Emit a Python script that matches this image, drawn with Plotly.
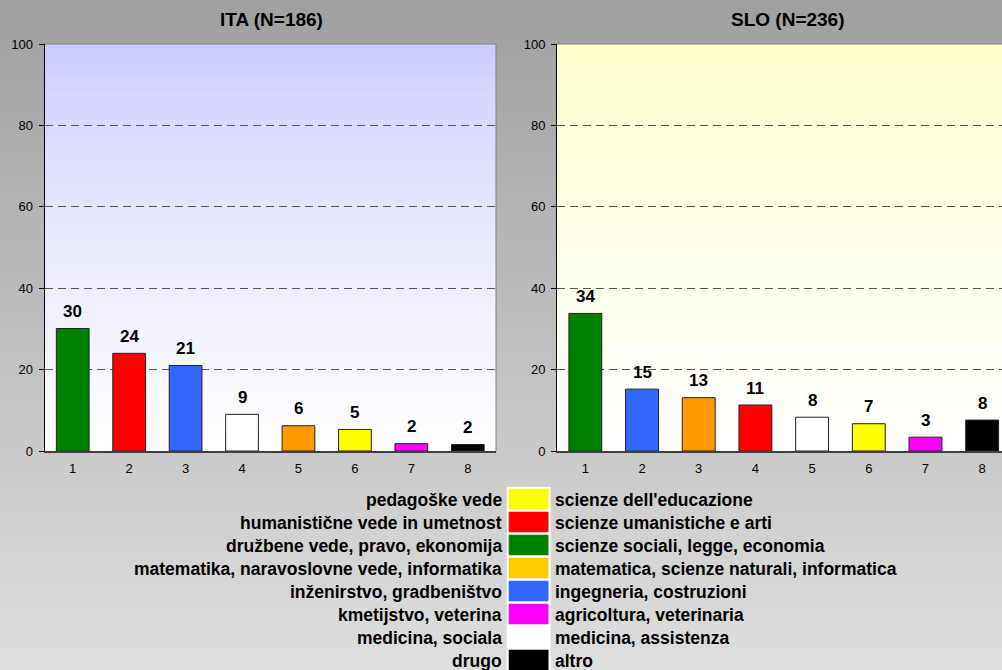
import plotly.graph_objects as go

W, H = 1002, 670
FONT = "Liberation Sans, Arial, sans-serif"

# ---------------- data ----------------
categories = [1, 2, 3, 4, 5, 6, 7, 8]
tick_labels = ["1", "2", "3", "4", "5", "6", "7", "8"]

ita_title = "ITA (N=186)"
ita_values = [30.1, 24.0, 21.0, 9.0, 6.2, 5.3, 1.8, 1.6]
ita_colors = ["#008000", "#FF0000", "#3366FF", "#FFFFFF", "#FF9900", "#FFFF00", "#FF00FF", "#000000"]

slo_title = "SLO (N=236)"
slo_values = [33.8, 15.2, 13.1, 11.3, 8.3, 6.7, 3.4, 7.6]
slo_colors = ["#008000", "#3366FF", "#FF9900", "#FF0000", "#FFFFFF", "#FFFF00", "#FF00FF", "#000000"]

legend_sl = [
    "pedagoške vede",
    "humanistične vede in umetnost",
    "družbene vede, pravo, ekonomija",
    "matematika, naravoslovne vede, informatika",
    "inženirstvo, gradbeništvo",
    "kmetijstvo, veterina",
    "medicina, sociala",
    "drugo",
]
legend_it = [
    "scienze dell'educazione",
    "scienze umanistiche e arti",
    "scienze sociali, legge, economia",
    "matematica, scienze naturali, informatica",
    "ingegneria, costruzioni",
    "agricoltura, veterinaria",
    "medicina, assistenza",
    "altro",
]
legend_colors = ["#FFFF00", "#FF0000", "#008000", "#FFCC00", "#3366FF", "#FF00FF", "#FFFFFF", "#000000"]

y_ticks = [0, 20, 40, 60, 80, 100]

# ---------------- layout helpers ----------------
def px_x(x):
    return x / W

def px_y(y):
    return 1 - y / H

plot_top, plot_bot = 44, 451
ita_l, ita_r = 44.5, 496
slo_l, slo_r = 557, 1002

shapes = []

# figure background gradient (grey, darker at top)
n = 67
for i in range(n):
    t = i / (n - 1)
    g = int(round(160 + (222 - 160) * t))
    y0 = i * H / n
    y1 = (i + 1) * H / n + 0.6
    shapes.append(dict(type="rect", xref="paper", yref="paper",
                       x0=0, x1=1, y0=max(px_y(y1), 0), y1=px_y(y0),
                       fillcolor=f"rgb({g},{g},{g})", line=dict(width=0), layer="below"))

# plot-area gradients
def plot_gradient(xl, xr, top_rgb):
    m = 50
    out = []
    for i in range(m):
        t = (i / (m - 1)) ** 0.8
        c = [int(round(top_rgb[k] + (255 - top_rgb[k]) * t)) for k in range(3)]
        y0 = plot_top + i * (plot_bot - plot_top) / m
        y1 = plot_top + (i + 1) * (plot_bot - plot_top) / m + 0.6
        out.append(dict(type="rect", xref="paper", yref="paper",
                        x0=px_x(xl), x1=px_x(xr), y0=px_y(min(y1, plot_bot)), y1=px_y(y0),
                        fillcolor=f"rgb({c[0]},{c[1]},{c[2]})", line=dict(width=0), layer="below"))
    return out

shapes += plot_gradient(ita_l, ita_r, (204, 204, 255))
shapes += plot_gradient(slo_l, slo_r, (255, 255, 204))

# plot borders (top / right)
shapes.append(dict(type="line", xref="paper", yref="paper", x0=px_x(ita_l), x1=px_x(ita_r),
                   y0=px_y(plot_top), y1=px_y(plot_top), line=dict(color="#808080", width=1), layer="above"))
shapes.append(dict(type="line", xref="paper", yref="paper", x0=px_x(ita_r), x1=px_x(ita_r),
                   y0=px_y(plot_top), y1=px_y(plot_bot), line=dict(color="#808080", width=1), layer="above"))
shapes.append(dict(type="line", xref="paper", yref="paper", x0=px_x(slo_l), x1=1,
                   y0=px_y(plot_top), y1=px_y(plot_top), line=dict(color="#808080", width=1), layer="above"))

# legend swatch column
leg_x0, leg_x1 = 506.7, 550.7
leg_top = 486.7
row_h = 23
shapes.append(dict(type="rect", xref="paper", yref="paper", x0=px_x(leg_x0), x1=px_x(leg_x1),
                   y0=0, y1=px_y(leg_top), fillcolor="#FFFFFF", line=dict(width=0)))
for i, col in enumerate(legend_colors):
    y0 = leg_top + 2 + i * row_h
    y1 = y0 + 20.6
    shapes.append(dict(type="rect", xref="paper", yref="paper",
                       x0=px_x(508.7), x1=px_x(548.5), y0=px_y(min(y1, H)), y1=px_y(y0),
                       fillcolor=col, line=dict(width=0)))

annotations = []
# titles
annotations.append(dict(text=f"<b>{ita_title}</b>", x=px_x(271), y=px_y(20), xref="paper", yref="paper",
                        showarrow=False, font=dict(family=FONT, size=19, color="black"),
                        xanchor="center", yanchor="middle"))
annotations.append(dict(text=f"<b>{slo_title}</b>", x=px_x(787.5), y=px_y(20), xref="paper", yref="paper",
                        showarrow=False, font=dict(family=FONT, size=19, color="black"),
                        xanchor="center", yanchor="middle"))

# value labels
for xa, ya, vals in (("x", "y", ita_values), ("x2", "y2", slo_values)):
    for c, v in zip(categories, vals):
        annotations.append(dict(text=f"<b>{v:.0f}</b>", x=c, y=v, xref=xa, yref=ya,
                                showarrow=False, yanchor="middle", yshift=17,
                                font=dict(family=FONT, size=17, color="black")))

# legend texts
for i, (sl, it) in enumerate(zip(legend_sl, legend_it)):
    yc = 500 + i * row_h
    annotations.append(dict(text=f"<b>{sl}</b>", x=px_x(504), y=px_y(yc), xref="paper", yref="paper",
                            showarrow=False, xanchor="right", yanchor="middle",
                            font=dict(family=FONT, size=17.5, color="black")))
    annotations.append(dict(text=f"<b>{it}</b>", x=px_x(553), y=px_y(yc), xref="paper", yref="paper",
                            showarrow=False, xanchor="left", yanchor="middle",
                            font=dict(family=FONT, size=17.5, color="black")))

fig = go.Figure()
fig.add_trace(go.Bar(x=categories, y=ita_values, marker=dict(color=ita_colors, line=dict(color="#222222", width=1)),
                     width=0.58, xaxis="x", yaxis="y", showlegend=False, hoverinfo="y"))
fig.add_trace(go.Bar(x=categories, y=slo_values, marker=dict(color=slo_colors, line=dict(color="#222222", width=1)),
                     width=0.58, xaxis="x2", yaxis="y2", showlegend=False, hoverinfo="y"))

ydom = [px_y(plot_bot), px_y(plot_top)]
xaxis_common = dict(tickvals=categories, ticktext=tick_labels, ticks="", showgrid=False, zeroline=False,
                    showline=True, linecolor="#404040", linewidth=2, automargin=False,
                    ticklabelstandoff=4,
                    tickfont=dict(family=FONT, size=13, color="black"), fixedrange=True)
yaxis_common = dict(range=[0, 100], tickvals=y_ticks, ticks="outside", ticklen=5, tickcolor="black",
                    showline=True, linecolor="black", linewidth=1, zeroline=False, automargin=False,
                    showgrid=True, gridcolor="#555555", griddash="8px,5px", gridwidth=1,
                    ticklabelstandoff=3,
                    tickfont=dict(family=FONT, size=13, color="black"), fixedrange=True)

fig.update_layout(
    width=W, height=H,
    margin=dict(l=0, r=0, t=0, b=0, pad=0, autoexpand=False),
    paper_bgcolor="#C8C8C8",
    plot_bgcolor="rgba(0,0,0,0)",
    xaxis=dict(domain=[px_x(ita_l), px_x(ita_r)], range=[0.5, 8.5], anchor="y", **xaxis_common),
    yaxis=dict(domain=ydom, anchor="x", **yaxis_common),
    xaxis2=dict(domain=[px_x(slo_l), 1.0], range=[0.5, 8.35], anchor="y2", **xaxis_common),
    yaxis2=dict(domain=ydom, anchor="x2", **yaxis_common),
    shapes=shapes,
    annotations=annotations,
    bargap=0.4,
    font=dict(family=FONT),
)

fig.write_html("out.html", config={"displayModeBar": False},
               post_script="document.body.style.margin='0px';document.body.style.overflow='hidden';")
